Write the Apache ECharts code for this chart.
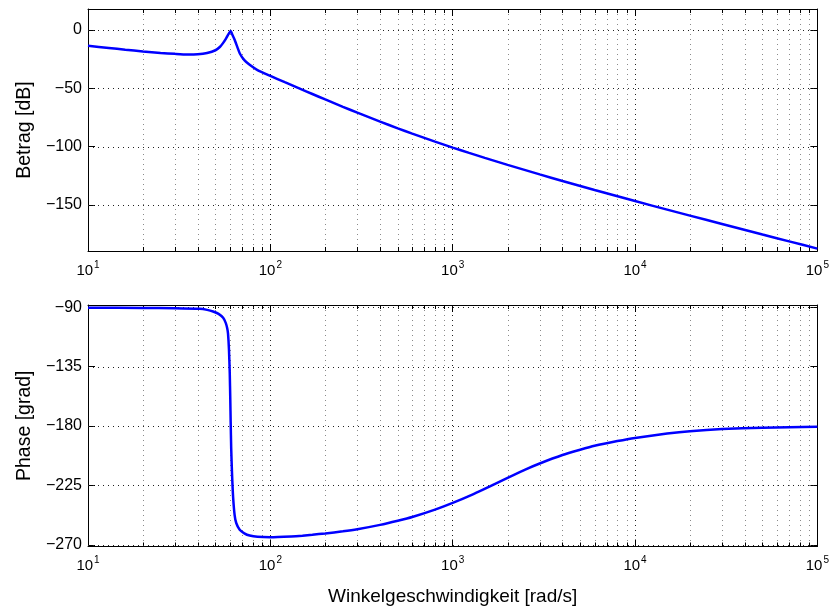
<!DOCTYPE html>
<html><head><meta charset="utf-8">
<script src="https://cdn.jsdelivr.net/npm/echarts@6/dist/echarts.min.js"></script>
<style>html,body{margin:0;padding:0;background:#fff}#c{width:832px;height:612px}</style>
</head><body><div id="c"></div>
<script>
// ---- data ----
const magW  = [10, 13, 16, 20, 25, 30, 35, 40, 45, 50, 53, 55, 57, 58.6, 60.6, 62, 63.7, 66, 68, 72, 77, 85, 100, 120, 145, 170, 200, 250, 300, 400, 500, 600, 800, 1000, 1230, 1500, 2000, 3000, 4000, 6000, 10000, 15000, 20000, 30000, 50000, 70000, 100000];
const magDb = [-13.7, -15.5, -17.0, -18.5, -19.8, -20.6, -21.1, -20.9, -19.8, -17.5, -14.5, -11.4, -7.8, -4.3, -1.0, -4.5, -8.5, -15, -20.3, -26, -30, -34.5, -39.5, -44.85, -50.35, -54.95, -59.6, -65.9, -70.95, -78.6, -84.35, -88.85, -95.7, -100.8, -105.35, -109.6, -115.6, -123.75, -129.4, -137.1, -146.55, -153.9, -159.05, -166.2, -175.2, -181.05, -187.25];
const phW   = [10, 20, 30, 41, 45, 48.5, 52, 55.1, 57, 58, 58.6, 59.3, 59.9, 60.3, 60.6, 61.0, 61.6, 62.5, 63.7, 65, 67.9, 72, 77, 85, 100, 130, 150, 170, 200, 250, 300, 400, 500, 600, 800, 1000, 1300, 1600, 2000, 2500, 3000, 4000, 5000, 6000, 8000, 10000, 15000, 20000, 30000, 50000, 70000, 100000];
const phDeg = [-90.4, -90.5, -90.7, -91.2, -92, -93.2, -95, -98, -102, -106, -110, -122, -140, -160, -177, -197, -215, -234, -247.5, -253.5, -258.6, -261.3, -263, -264, -264.3, -263.7, -263.1, -262.4, -261.4, -259.8, -258.2, -254.9, -251.8, -249.0, -243.4, -238.3, -231.6, -225.8, -219.3, -213.0, -208.4, -202.0, -198.0, -195.0, -191.4, -189.0, -185.7, -183.9, -182.3, -181.3, -180.9, -180.6];
const magTicks = [-150, -100, -50, 0];
const phTicks  = [-270, -225, -180, -135, -90];
const minorX = [20,30,40,50,60,70,80,90, 200,300,400,500,600,700,800,900, 2000,3000,4000,5000,6000,7000,8000,9000, 20000,30000,40000,50000,60000,70000,80000,90000];
const magRange = [-189.3, 17.8];
const phRange  = [-271.3, -88.3];

const FONT = '"Liberation Sans", Arial, sans-serif';
const chart = echarts.init(document.getElementById('c'), null, {renderer: 'canvas'});

function minusFmt(v){ return String(v).replace('-', '\u2212'); }

function xAxisCfg(gi, pos, labels){
  return {
    type: 'log', logBase: 10, gridIndex: gi, position: pos, min: 10, max: 100000,
    axisLine: {show: true, onZero: false, lineStyle: {color: '#000', width: 1}},
    axisTick: {show: true, inside: true, length: 7, lineStyle: {color: '#000'}},
    splitLine: {show: labels, lineStyle: {color: '#222', width: 1, type: [1, 4]}},
    minorTick: {show: false}, minorSplitLine: {show: false},
    axisLabel: labels ? {
      show: true, margin: 9, fontFamily: FONT,
      formatter: function(v){ return '{b|10}{e|' + Math.round(Math.log10(v)) + '}'; },
      rich: {
        b: {fontSize: 15, fontFamily: FONT, color: '#000', lineHeight: 18, verticalAlign: 'bottom'},
        e: {fontSize: 10, fontFamily: FONT, color: '#000', lineHeight: 18, verticalAlign: 'top', padding: [0,0,0,1]}
      }
    } : {show: false}
  };
}
function yAxisCfg(gi, pos, range, ticks, name, labels){
  const c = {
    type: 'value', gridIndex: gi, position: pos, min: range[0], max: range[1],
    axisLine: {show: true, onZero: false, lineStyle: {color: '#000', width: 1}},
    axisTick: {show: true, inside: true, length: 7, customValues: ticks, lineStyle: {color: '#000'}},
    splitLine: {show: false},
    axisLabel: labels ? {show: true, customValues: ticks, margin: 6, fontSize: 16, fontFamily: FONT, color: '#000', formatter: minusFmt} : {show: false}
  };
  if (labels) {
    c.name = name; c.nameLocation = 'middle'; c.nameGap = 52;
    c.nameTextStyle = {fontSize: 19.5, fontFamily: FONT, color: '#000'};
  }
  return c;
}

function minorSeries(xi, yi, range){
  return {
    type: 'custom', xAxisIndex: xi, yAxisIndex: yi, silent: true, z: 1, clip: false,
    data: minorX.map(v => [v, range[0]]),
    encode: {x: 0, y: 1},
    renderItem: function(params, api){
      const cs = params.coordSys;
      const x = Math.round(api.coord([api.value(0), range[0]])[0]) + 0.5;
      return {type: 'group', children: [
        {type: 'line', shape: {x1: x, y1: cs.y, x2: x, y2: cs.y + cs.height}, style: {stroke: '#8a8a8a', lineWidth: 1, lineDash: [1, 4]}},
        {type: 'line', shape: {x1: x, y1: cs.y + cs.height, x2: x, y2: cs.y + cs.height - 4}, style: {stroke: '#000', lineWidth: 1}},
        {type: 'line', shape: {x1: x, y1: cs.y, x2: x, y2: cs.y + 4}, style: {stroke: '#000', lineWidth: 1}}
      ]};
    }
  };
}
function hGridSeries(xi, yi, ticks){
  return {
    type: 'custom', xAxisIndex: xi, yAxisIndex: yi, silent: true, z: 1, clip: false,
    data: ticks.map(v => [10, v]),
    encode: {x: 0, y: 1},
    renderItem: function(params, api){
      const cs = params.coordSys;
      const y = Math.round(api.coord([10, api.value(1)])[1]) + 0.5;
      return {type: 'line', shape: {x1: cs.x, y1: y, x2: cs.x + cs.width, y2: y}, style: {stroke: '#222', lineWidth: 1, lineDash: [1, 4]}};
    }
  };
}

const option = {
  animation: false,
  backgroundColor: '#fff',
  grid: [
    {left: 88, top: 9, width: 731, height: 242},
    {left: 88, top: 305, width: 731, height: 241.5}
  ],
  xAxis: [
    xAxisCfg(0, 'bottom', true),
    xAxisCfg(0, 'top', false),
    Object.assign(xAxisCfg(1, 'bottom', true), {
      name: 'Winkelgeschwindigkeit [rad/s]', nameLocation: 'middle', nameGap: 41,
      nameTextStyle: {fontSize: 19, fontFamily: FONT, color: '#000'}
    }),
    xAxisCfg(1, 'top', false)
  ],
  yAxis: [
    yAxisCfg(0, 'left', magRange, magTicks, 'Betrag [dB]', true),
    yAxisCfg(0, 'right', magRange, magTicks, '', false),
    yAxisCfg(1, 'left', phRange, phTicks, 'Phase [grad]', true),
    yAxisCfg(1, 'right', phRange, phTicks, '', false)
  ],
  series: [
    minorSeries(0, 0, magRange),
    hGridSeries(0, 0, magTicks),
    minorSeries(2, 2, phRange),
    hGridSeries(2, 2, phTicks),
    {type: 'line', xAxisIndex: 0, yAxisIndex: 0, z: 5, showSymbol: false, symbol: 'none', clip: true,
     smooth: 0.2,
     lineStyle: {color: '#0000ff', width: 2.5}, data: magW.map((w, i) => [w, magDb[i]])},
    {type: 'line', xAxisIndex: 2, yAxisIndex: 2, z: 5, showSymbol: false, symbol: 'none', clip: true,
     smooth: 0.2,
     lineStyle: {color: '#0000ff', width: 2.5}, data: phW.map((w, i) => [w, phDeg[i]])}
  ]
};
chart.setOption(option);
</script></body></html>
